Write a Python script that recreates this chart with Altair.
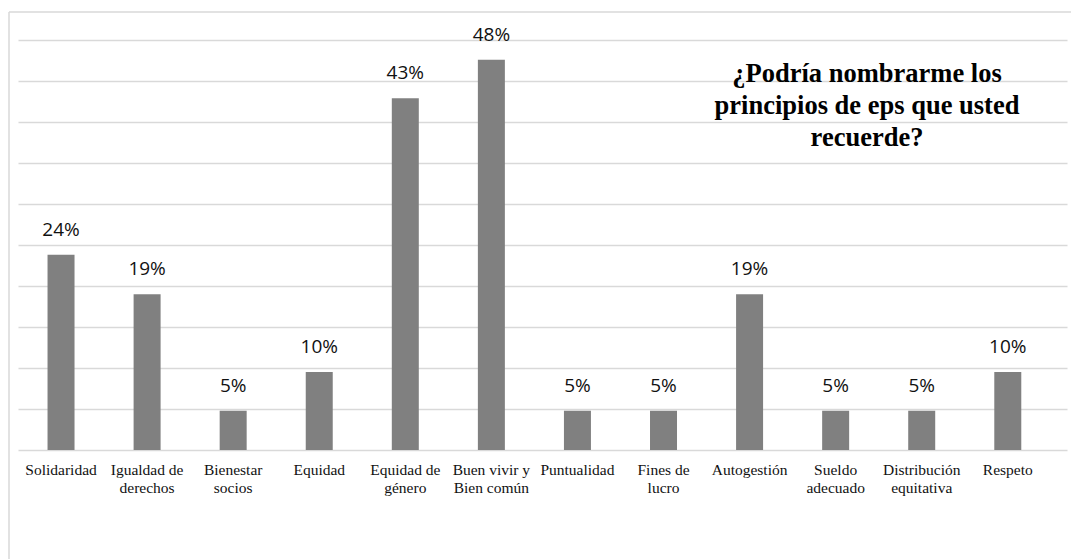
import altair as alt
import pandas as pd

categories = [
    "Solidaridad", "Igualdad de|derechos", "Bienestar|socios", "Equidad",
    "Equidad de|género", "Buen vivir y|Bien común", "Puntualidad", "Fines de|lucro",
    "Autogestión", "Sueldo|adecuado", "Distribución|equitativa", "Respeto",
]
values = [23.8, 19.0, 4.8, 9.5, 42.9, 47.6, 4.8, 4.8, 19.0, 4.8, 4.8, 9.5]
labels = ["24%", "19%", "5%", "10%", "43%", "48%", "5%", "5%", "19%", "5%", "5%", "10%"]
title_lines = ["¿Podría nombrarme los", "principios de eps que usted", "recuerde?"]

df = pd.DataFrame({"cat": categories, "val": values, "lab": labels})

W, H = 1049, 410

x_enc = alt.X(
    "cat:N", sort=categories, title=None,
    scale=alt.Scale(paddingInner=0, paddingOuter=0.094, align=0),
    axis=alt.Axis(
        labelExpr="split(datum.label, '|')",
        labelFont="Liberation Serif", labelFontSize=15.5, labelColor="#111111",
        labelAngle=0, labelPadding=12, labelLineHeight=18,
        ticks=False, domainColor="#d9d9d9", domainWidth=1.5, grid=False,
    ),
)
y_enc = alt.Y(
    "val:Q", title=None,
    scale=alt.Scale(domain=[0, 50], nice=False),
    axis=alt.Axis(
        values=[5, 10, 15, 20, 25, 30, 35, 40, 45, 50],
        labels=False, ticks=False, domain=False,
        grid=True, gridColor="#d9d9d9", gridWidth=1.5,
    ),
)

bars = alt.Chart(df).mark_bar(size=27, color="#808080").encode(x=x_enc, y=y_enc)

text = alt.Chart(df).mark_text(
    dy=-19, baseline="alphabetic", font="Open Sans", fontSize=19, color="#111111"
).encode(x=alt.X("cat:N", sort=categories), y="val:Q", text="lab:N")

title = alt.Chart(pd.DataFrame({"t": [title_lines]})).mark_text(
    font="Liberation Serif", fontWeight="bold", fontSize=26.5, lineHeight=32,
    align="center", baseline="alphabetic", color="#000000",
).encode(x=alt.value(849), y=alt.value(42), text="t")

border_top = alt.Chart(pd.DataFrame({"a": [0]})).mark_rule(
    color="#d9d9d9", strokeWidth=1.5
).encode(x=alt.value(-9), x2=alt.value(1080), y=alt.value(-28))
border_left = alt.Chart(pd.DataFrame({"a": [0]})).mark_rule(
    color="#d9d9d9", strokeWidth=1.5
).encode(x=alt.value(-9), y=alt.value(-28), y2=alt.value(540))

chart = alt.layer(border_top, border_left, bars, text, title).properties(
    width=W, height=H,
    autosize=alt.AutoSizeParams(type="none"),
    padding={"left": 18, "top": 40, "right": 4, "bottom": 109},
    background="white",
).configure_view(stroke=None)

chart.save("out.html", embed_options={"renderer": "svg", "actions": False})
